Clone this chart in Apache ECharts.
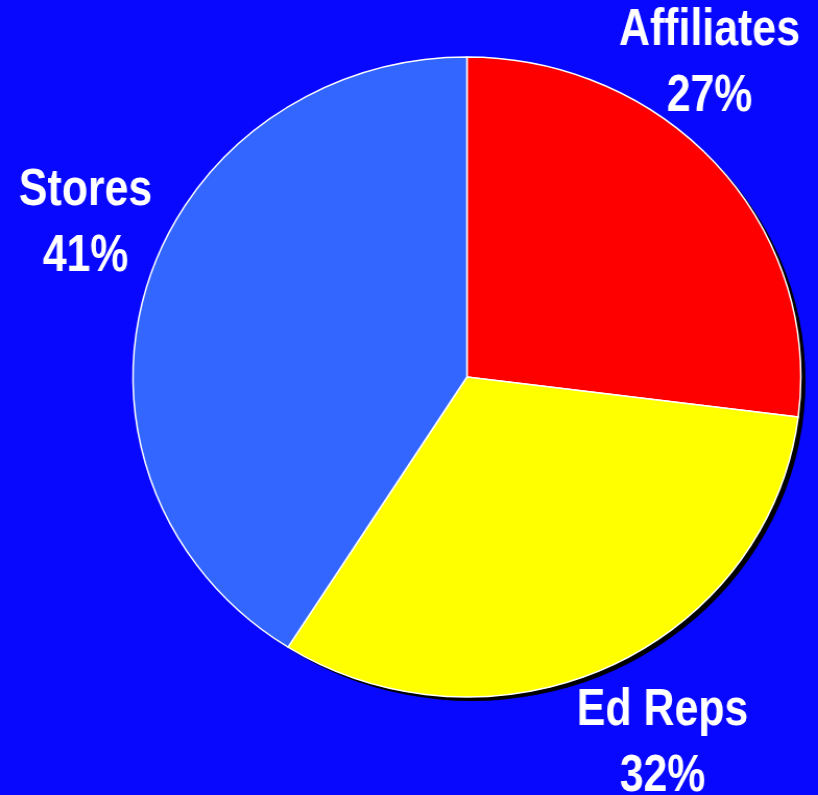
<!DOCTYPE html>
<html><head><meta charset="utf-8">
<script src="https://cdn.jsdelivr.net/npm/echarts@6/dist/echarts.min.js"></script>
<style>
html,body{margin:0;padding:0;background:#0808FF;overflow:hidden;}
#wrap{width:818px;height:795px;overflow:hidden;position:relative;}
#chart{width:784px;height:795px;transform:scaleX(1.0434);transform-origin:0 0;}
</style></head>
<body><div id="wrap"><div id="chart"></div></div>
<script>
const categories = ['Affiliates', 'Ed Reps', 'Stores'];
const values = [27, 32, 41];
const colors = ['#FF0000', '#FFFF00', '#3366FF'];
const labelPos = [[680, 64], [635, 744], [82, 224]];

const total = values.reduce((a, b) => a + b, 0);
const chart = echarts.init(document.getElementById('chart'), null, {renderer: 'canvas'});
const font = "bold 52px 'Liberation Sans', Arial, sans-serif";

const labels = categories.map((c, i) => ({
  type: 'text', silent: true, z: 10,
  x: labelPos[i][0], y: labelPos[i][1], scaleX: 0.79,
  style: {
    text: c + '\n' + Math.round(values[i] / total * 100) + '%',
    fill: '#ffffff', font: font, lineHeight: 66,
    align: 'center', verticalAlign: 'middle',
    textShadowColor: '#000', textShadowOffsetX: 3, textShadowOffsetY: 3, textShadowBlur: 0
  }
}));

chart.setOption({
  backgroundColor: '#0808FF',
  animation: false,
  graphic: labels,
  series: [
    {
      type: 'pie', silent: true, z: 1,
      center: [452, 381], radius: 320, startAngle: 90,
      label: {show: false}, labelLine: {show: false},
      itemStyle: {color: '#000'},
      data: [{value: 1, name: ''}]
    },
    {
      type: 'pie', z: 2,
      center: [447.5, 377], radius: 320, startAngle: 90, clockwise: true,
      itemStyle: {borderColor: '#ffffff', borderWidth: 1.5},
      label: {show: false},
      labelLine: {show: false},
      data: categories.map((c, i) => ({name: c, value: values[i], itemStyle: {color: colors[i]}}))
    }
  ]
});
</script></body></html>
